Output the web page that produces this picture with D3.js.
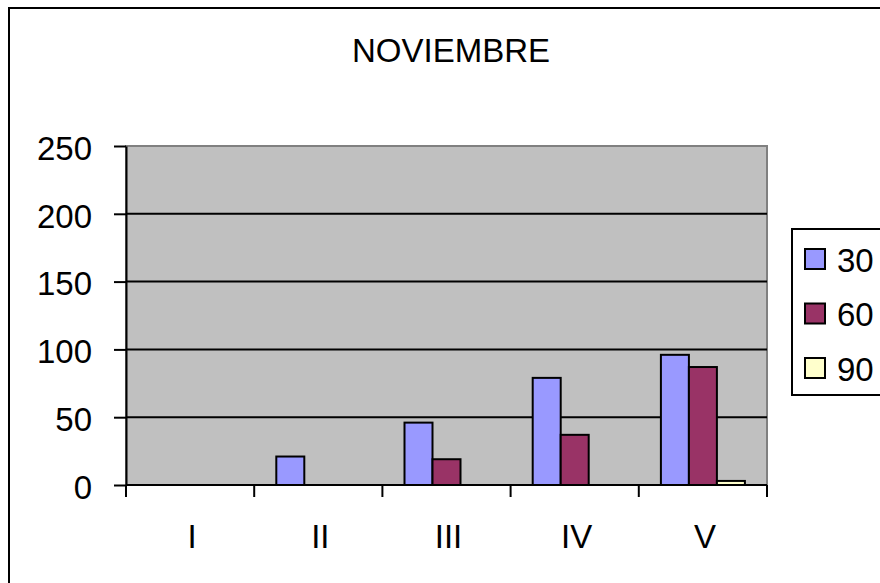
<!DOCTYPE html>
<html><head><meta charset="utf-8">
<script src="https://cdn.jsdelivr.net/npm/d3@7"></script>
<style>html,body{margin:0;padding:0;background:#fff;overflow:hidden}</style>
</head><body>
<script>
const categories = ["I","II","III","IV","V"];
const seriesNames = ["30","60","90"];
const values30 = [0, 21, 46, 79, 96];
const values60 = [0, 0, 19, 37, 87];
const values90 = [0, 0, 0, 0, 3];
const yTicks = [0, 50, 100, 150, 200, 250];
const colors = ["#9999FF", "#993366", "#FFFFCC"];
const chartTitle = "NOVIEMBRE";

(function(){
const W = 880, H = 583;
const svg = d3.select("body").append("svg").attr("width", W).attr("height", H)
  .style("font-family", "Arial, 'Liberation Sans', sans-serif");

// outer frame
svg.append("rect").attr("x", 9).attr("y", 8).attr("width", 900).attr("height", 600)
  .attr("fill", "#fff").attr("stroke", "#000").attr("stroke-width", 2);

const pL = 126, pR = 767, pT = 146, pB = 485;
const x = d3.scaleBand().domain(categories).range([pL, pR]);
const y = d3.scaleLinear().domain([0, 250]).range([pB, pT]);

// plot area
svg.append("rect").attr("x", pL).attr("y", pT).attr("width", pR - pL).attr("height", pB - pT)
  .attr("fill", "#C0C0C0").attr("stroke", "#808080").attr("stroke-width", 2);

// gridlines
svg.append("g").selectAll("line").data(yTicks.filter(d => d > 0 && d < 250)).join("line")
  .attr("x1", pL).attr("x2", pR).attr("y1", d => y(d)).attr("y2", d => y(d))
  .attr("stroke", "#000").attr("stroke-width", 2);

// bars
const series = [values30, values60, values90];
const barW = 28;
const inner = d3.scaleBand().domain(seriesNames).range([0, barW * 3]);
const offset = (x.bandwidth() - barW * 3) / 2;
series.forEach((vals, si) => {
  svg.append("g").selectAll("rect").data(categories.map((c, i) => ({c, v: vals[i]})).filter(d => d.v > 0)).join("rect")
    .attr("x", d => x(d.c) + offset + inner(seriesNames[si]))
    .attr("y", d => y(d.v))
    .attr("width", inner.bandwidth())
    .attr("height", d => pB - y(d.v))
    .attr("fill", colors[si]).attr("stroke", "#000").attr("stroke-width", 2);
});

// y axis
const yAxis = svg.append("g").attr("transform", `translate(${pL},0)`)
  .call(d3.axisLeft(y).tickValues(yTicks).tickSize(12).tickPadding(22).tickSizeOuter(0));
yAxis.select(".domain").attr("stroke-width", 2);
yAxis.selectAll(".tick line").attr("stroke-width", 2);
yAxis.selectAll("text").attr("font-size", 33).attr("fill", "#000").attr("dy", "0.4em")
  .style("font-family", "Arial, 'Liberation Sans', sans-serif");

// x axis
const boundaries = categories.map(c => x(c)).concat([pR]);
svg.append("line").attr("x1", pL).attr("x2", pR).attr("y1", pB).attr("y2", pB)
  .attr("stroke", "#000").attr("stroke-width", 2);
svg.append("g").selectAll("line").data(boundaries).join("line")
  .attr("x1", d => d).attr("x2", d => d).attr("y1", pB).attr("y2", pB + 12)
  .attr("stroke", "#000").attr("stroke-width", 2);
svg.append("g").selectAll("text").data(categories).join("text")
  .attr("x", d => x(d) + x.bandwidth() / 2 + 2).attr("y", 548)
  .attr("text-anchor", "middle").attr("font-size", 33).text(d => d);

// title
svg.append("text").attr("x", 451).attr("y", 62).attr("text-anchor", "middle")
  .attr("font-size", 33).text(chartTitle);

// legend
svg.append("rect").attr("x", 792).attr("y", 229).attr("width", 120).attr("height", 166)
  .attr("fill", "#fff").attr("stroke", "#000").attr("stroke-width", 2);
const lg = svg.append("g").selectAll("g").data(seriesNames).join("g")
  .attr("transform", (d, i) => `translate(805,${249 + i * 54.5})`);
lg.append("rect").attr("width", 20).attr("height", 20)
  .attr("fill", (d, i) => colors[i]).attr("stroke", "#000").attr("stroke-width", 2);
lg.append("text").attr("x", 32).attr("y", 10).attr("dy", "0.38em")
  .attr("font-size", 33).text(d => d);
})();
</script>
</body></html>
